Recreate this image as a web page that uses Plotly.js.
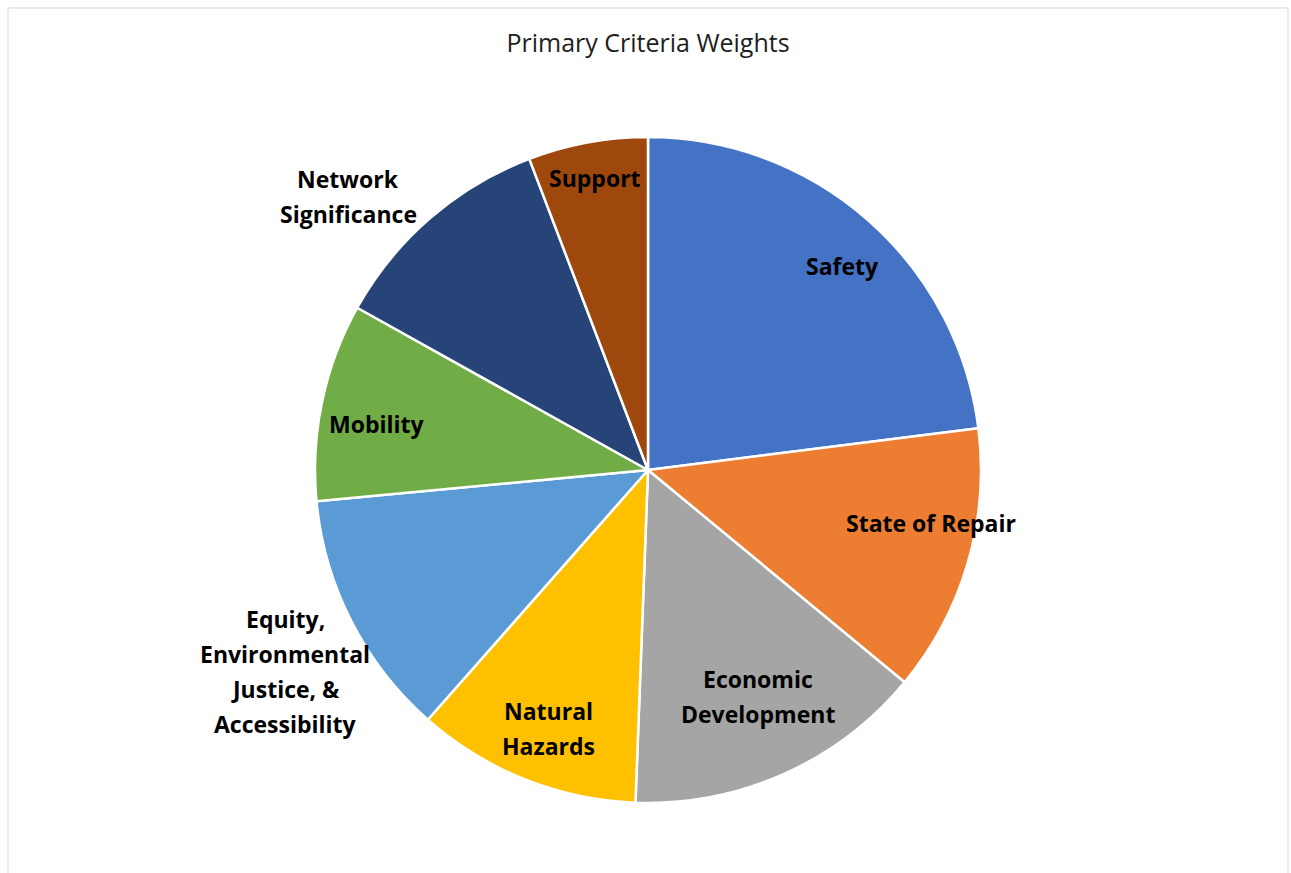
<!DOCTYPE html>
<html>
<head>
<meta charset="utf-8">
<script src="https://cdn.plot.ly/plotly-3.0.1.min.js"></script>
<style>html,body{margin:0;padding:0;background:#fff;}#chart{width:1291px;height:873px;}</style>
</head>
<body>
<div id="chart"></div>
<script>
// ---- data ----
const categories = ["Safety", "State of Repair", "Economic Development", "Natural Hazards",
  "Equity, Environmental Justice, & Accessibility", "Mobility", "Network Significance", "Support"];
const weights = [23, 13, 14.6, 10.9, 12, 9.6, 11.1, 5.8];
const labelLines = [
  ["Safety"], ["State of Repair"], ["Economic", "Development"], ["Natural", "Hazards"],
  ["Equity,", "Environmental", "Justice, &", "Accessibility"], ["Mobility"],
  ["Network", "Significance"], ["Support"]
];
const chartTitle = "Primary Criteria Weights";

// ---- styles ----
const colors = ["#4472C4", "#ED7D31", "#A5A5A5", "#FFC000", "#5B9BD5", "#70AD47", "#264478", "#9E480E"];
const labelRadius = [0.845, 0.865, 0.757, 0.831, 1.247, 0.825, 1.218, 0.891];
const labelAngleNudge = [2.2, -5.6, -1.8, -0.6, -2.1, -2.3, -6.8, 0.1];

const W = 1291, H = 873;
const cx = 648, cy = 470, R = 333;
const lineGap = 35;

const total = weights.reduce((a, b) => a + b, 0);
const annotations = [];
let cum = 0;
weights.forEach((w, k) => {
  const mid = (cum + w / 2) / total * 360 + labelAngleNudge[k];
  cum += w;
  const a = mid * Math.PI / 180;
  const px = cx + R * labelRadius[k] * Math.sin(a);
  const py = cy - R * labelRadius[k] * Math.cos(a);
  const lines = labelLines[k];
  lines.forEach((t, i) => {
    annotations.push({
      xref: "paper", yref: "paper",
      x: px / W, y: 1 - py / H,
      xanchor: "center", yanchor: "middle",
      yshift: -(i - (lines.length - 1) / 2) * lineGap,
      text: "<b>" + t + "</b>", showarrow: false,
      font: {family: "Open Sans", size: 23, color: "#000000"}
    });
  });
});

const trace = {
  type: "pie",
  labels: categories,
  values: weights,
  sort: false,
  direction: "clockwise",
  rotation: 0,
  textinfo: "none",
  hoverinfo: "none",
  marker: {colors: colors, line: {color: "#ffffff", width: 2.5}},
  domain: {x: [(cx - R) / W, (cx + R) / W], y: [1 - (cy + R) / H, 1 - (cy - R) / H]},
  showlegend: false
};

const layout = {
  width: W, height: H,
  margin: {l: 0, r: 0, t: 0, b: 0},
  paper_bgcolor: "#ffffff",
  title: {text: chartTitle, xref: "container", yref: "container", x: cx / W, y: 1 - 43 / H,
    xanchor: "center", yanchor: "middle", font: {family: "Open Sans", size: 25, color: "#1e1e1e"}},
  annotations: annotations,
  shapes: [{type: "rect", xref: "paper", yref: "paper", x0: 8 / W, x1: 1288 / W, y0: -0.1, y1: 1 - 8 / H,
    line: {color: "#d9d9d9", width: 1}, fillcolor: "rgba(0,0,0,0)"}]
};

Plotly.newPlot("chart", [trace], layout, {displayModeBar: false, staticPlot: true});
</script>
</body>
</html>
